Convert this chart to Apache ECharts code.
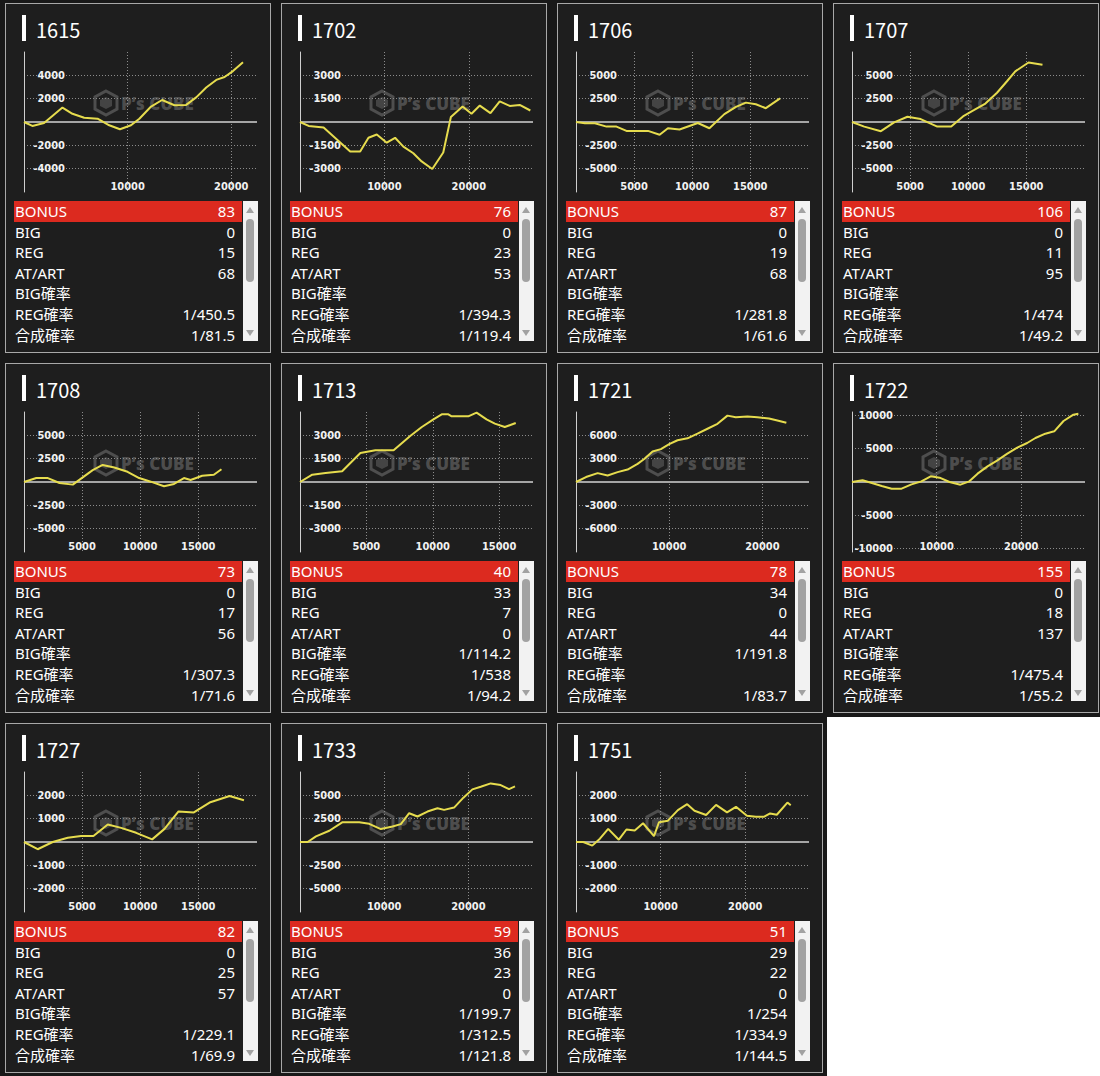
<!DOCTYPE html>
<html><head><meta charset="utf-8">
<script src="https://cdn.jsdelivr.net/npm/echarts@6/dist/echarts.min.js"></script>
<style>
html,body{margin:0;padding:0;}
body{width:1100px;height:1076px;background:#181818;position:relative;overflow:hidden;font-family:"Noto Sans CJK JP","Noto Sans",sans-serif;}
.blank{position:absolute;left:827px;top:717px;width:273px;height:359px;background:#fff;}
.panel{position:absolute;width:266px;height:350px;background:#1e1e1e;border:1px solid #a8a8a8;box-sizing:border-box;}
.bar{position:absolute;left:16px;top:11px;width:4px;height:26px;background:#fff;}
.title{position:absolute;left:30px;top:12px;font-size:20px;line-height:28px;color:#fff;}
.wm{position:absolute;left:87px;top:84px;width:110px;height:30px;z-index:1;display:flex;align-items:center;gap:2px;}
.wm span{font-family:"Open Sans","Noto Sans",sans-serif;font-weight:800;font-size:17px;color:rgba(125,125,125,0.5);}
.chart{position:absolute;left:0;top:40px;width:264px;height:156px;z-index:2;}
.tbl{position:absolute;left:8px;top:197px;width:228px;height:147px;overflow:hidden;}
.row{height:20.6px;line-height:20.6px;font-size:15px;font-family:"Noto Sans","Noto Sans CJK JP",sans-serif;color:#fff;display:flex;justify-content:space-between;padding:0 7px 0 1px;white-space:nowrap;}
.row.head{background:#dc2a1f;}
.sb{position:absolute;left:237px;top:197px;width:15px;height:140px;background:#f2f2f2;}
.sb .up{position:absolute;left:3px;top:6px;width:0;height:0;border-left:4px solid transparent;border-right:4px solid transparent;border-bottom:6px solid #a2a2a2;}
.sb .down{position:absolute;left:3px;top:129px;width:0;height:0;border-left:4px solid transparent;border-right:4px solid transparent;border-top:6px solid #a2a2a2;}
.sb .thumb{position:absolute;left:3px;top:18px;width:8px;height:63px;border-radius:4px;background:#a2a2a2;}
</style>
</head><body>
<div class="blank"></div>
<script>
// ---- table values ----
const machineIds = ['1615','1702','1706','1707','1708','1713','1721','1722','1727','1733','1751'];
const rowLabels = ['BONUS','BIG','REG','AT/ART','BIG確率','REG確率','合成確率'];
const bonusCounts = ['83','76','87','106','73','40','78','155','82','59','51'];
const bigCounts = ['0','0','0','0','0','33','34','0','0','36','29'];
const regCounts = ['15','23','19','11','17','7','0','18','25','23','22'];
const atArtCounts = ['68','53','68','95','56','0','44','137','57','0','0'];
const bigProbs = ['','','','','','1/114.2','1/191.8','','','1/199.7','1/254'];
const regProbs = ['1/450.5','1/394.3','1/281.8','1/474','1/307.3','1/538','','1/475.4','1/229.1','1/312.5','1/334.9'];
const totalProbs = ['1/81.5','1/119.4','1/61.6','1/49.2','1/71.6','1/94.2','1/83.7','1/55.2','1/69.9','1/121.8','1/144.5'];

// ---- axis ranges and tick labels ----
const xMaxes = [22480, 27600, 20060, 20060, 20060, 17550, 25000, 27540, 20060, 27670, 27530];
const xTickLabels = [[10000,20000],[10000,20000],[5000,10000,15000],[5000,10000,15000],[5000,10000,15000],[5000,10000,15000],[10000,20000],[10000,20000],[5000,10000,15000],[10000,20000],[10000,20000]];
const yMaxes = [6000, 4500, 7500, 7500, 7500, 4500, 9000, 10500, 3000, 7500, 3000];
const yTickLabels = [[-4000,-2000,2000,4000],[-3000,-1500,1500,3000],[-5000,-2500,2500,5000],[-5000,-2500,2500,5000],[-5000,-2500,2500,5000],[-3000,-1500,1500,3000],[-6000,-3000,3000,6000],[-10000,-5000,5000,10000],[-2000,-1000,1000,2000],[-5000,-2500,2500,5000],[-2000,-1000,1000,2000]];

// ---- line data: games (x) and medal difference (y) ----
const g1615Games = [0,806,1935,3710,4677,5806,7097,8226,9258,10323,11129,12258,13323,14516,15645,16613,17581,18548,19355,20161,21129];
const g1615Diff  = [0,-338,-85,1239,704,366,282,-282,-620,-282,282,1324,1887,1437,1465,2113,2958,3606,3859,4366,5127];
const g1702Games = [0,1024,2795,4370,5945,7126,8110,9094,10276,11260,12244,13425,14409,15669,16969,17874,19252,20315,21299,22559,23661,24843,26024,27283];
const g1702Diff  = [0,-254,-359,-1120,-1901,-1901,-1014,-803,-1331,-1014,-1585,-2007,-2535,-3021,-1965,317,993,528,1056,570,1331,1035,1099,739];
const g1706Games = [0,771,1629,2629,3486,4343,5200,6200,7200,7914,8914,10486,11486,12771,13771,14629,15486,16343,17571];
const g1706Diff  = [0,-141,-141,-493,-493,-951,-951,-951,-1373,-669,-810,-106,-669,845,1620,2077,1901,1479,2535];
const g1707Games = [0,1057,2486,3629,4771,5914,7343,8543,9629,10486,11486,12486,13343,14057,15200,16400];
const g1707Diff  = [0,-493,-986,-35,563,317,-493,-493,669,1268,1972,3134,4366,5423,6373,6127];
const g1708Games = [0,1057,2057,3057,4200,5057,5914,6771,7771,8914,9914,10914,12057,12914,13771,14343,15343,16343,17000];
const g1708Diff  = [0,423,423,-106,-282,493,1268,1831,1549,1092,423,35,-458,-211,423,211,669,775,1373];
const g1713Games = [0,925,1925,3175,4550,5675,7050,8300,9175,10050,10675,11175,11425,12675,13300,14050,14675,15425,16250];
const g1713Diff  = [0,471,579,686,1864,2036,2036,2957,3536,4029,4350,4350,4221,4221,4457,4029,3750,3536,3793];
const g1721Games = [0,1071,2321,3393,4464,5536,6607,7321,8214,9107,10000,10893,11964,13036,14107,15179,16250,17143,18393,19464,20714,21607,22571];
const g1721Diff  = [0,634,1141,845,1268,1606,2324,2958,3930,4225,4859,5366,5620,6211,6845,7479,8535,8324,8408,8324,8155,7901,7606];
const g1722Games = [0,1250,2344,3516,4688,5859,7031,8203,9297,10352,11523,12813,13867,14844,16016,17188,18359,19531,20703,21680,22852,23906,25000,26172,26758];
const g1722Diff  = [0,250,-150,-600,-1000,-1000,-350,100,850,650,0,-400,100,1250,2350,3250,4250,5150,5850,6600,7250,7600,9150,10100,10250];
const g1727Games = [0,1178,2471,3764,4914,5977,7213,8362,9655,11034,12098,13305,14626,15977,17701,18937];
const g1727Diff  = [0,-310,0,183,254,254,746,606,394,113,563,1310,1268,1690,1972,1789];
const g1733Games = [0,909,1897,3478,5059,7036,8221,9605,10988,11976,12964,13953,15138,16324,17115,18300,19407,20474,21462,22648,23834,24822,25534];
const g1733Diff  = [0,0,603,1206,2128,2128,1950,1383,1667,1915,3085,2730,3262,3617,3440,3688,4752,5638,5922,6277,6099,5674,5957];
const g1751Games = [0,863,1922,2824,3804,5059,5961,6941,7922,9216,9804,10863,12039,13137,14000,15373,16549,17843,18902,20196,21255,22235,22941,23725,24980,25373];
const g1751Diff  = [0,0,-155,141,563,99,535,493,803,254,845,915,1366,1620,1338,1155,1592,1268,1507,1127,1085,1085,1225,1169,1690,1577];

const gamesList = [g1615Games,g1702Games,g1706Games,g1707Games,g1708Games,g1713Games,g1721Games,g1722Games,g1727Games,g1733Games,g1751Games];
const diffList  = [g1615Diff,g1702Diff,g1706Diff,g1707Diff,g1708Diff,g1713Diff,g1721Diff,g1722Diff,g1727Diff,g1733Diff,g1751Diff];

const colLefts = [5, 281, 557, 833];
const rowTops = [3, 363, 723];
const axisFont = '"Liberation Sans Narrow","DejaVu Sans Condensed","Liberation Sans",sans-serif';
const plain = v => String(v);

machineIds.forEach((id, i) => {
  const panel = document.createElement('div');
  panel.className = 'panel';
  panel.style.left = colLefts[i % 4] + 'px';
  panel.style.top = rowTops[Math.floor(i / 4)] + 'px';
  const vals = [bonusCounts[i], bigCounts[i], regCounts[i], atArtCounts[i], bigProbs[i], regProbs[i], totalProbs[i]];
  let rows = '';
  rowLabels.forEach((lab, r) => {
    rows += '<div class="row' + (r === 0 ? ' head' : '') + '"><span>' + lab + '</span><span>' + vals[r] + '</span></div>';
  });
  panel.innerHTML =
    '<div class="bar"></div><div class="title">' + id + '</div>' +
    '<div class="wm"><svg width="26" height="28" viewBox="0 0 26 28"><polygon points="13,2 24,8 24,20 13,26 2,20 2,8" fill="none" stroke="rgba(125,125,125,0.5)" stroke-width="3"/><polygon points="13,8 19,11 19,17 13,20 7,17 7,11" fill="rgba(125,125,125,0.4)"/></svg><span>P\u2019s CUBE</span></div>' +
    '<div class="chart"></div>' +
    '<div class="tbl">' + rows + '</div>' +
    '<div class="sb"><div class="up"></div><div class="thumb"></div><div class="down"></div></div>';
  document.body.appendChild(panel);

  const chart = echarts.init(panel.querySelector('.chart'), null, {renderer: 'svg', width: 264, height: 156});
  const pts = gamesList[i].map((g, k) => [g, diffList[i][k]]);
  const grid = {show: true, lineStyle: {color: '#8c8c8c', width: 1, type: [1, 2]}};
  const lbl = {formatter: plain, color: '#f2f2f2', fontSize: 11, fontWeight: 'bold', fontFamily: axisFont};
  chart.setOption({
    animation: false,
    backgroundColor: 'transparent',
    grid: {left: 18, top: 8, width: 233, height: 140},
    xAxis: {
      type: 'value', min: 0, max: xMaxes[i], position: 'bottom',
      axisLine: {show: false, onZero: false},
      axisTick: {show: false, customValues: xTickLabels[i]},
      axisLabel: Object.assign({inside: true, margin: 0, customValues: xTickLabels[i]}, lbl),
      splitLine: grid
    },
    yAxis: {
      type: 'value', min: -yMaxes[i], max: yMaxes[i],
      axisLine: {show: true, onZero: false, lineStyle: {color: '#cfcfcf', width: 1}},
      axisTick: {show: false, customValues: yTickLabels[i]},
      axisLabel: Object.assign({inside: true, align: 'right', margin: 41, customValues: yTickLabels[i]}, lbl),
      splitLine: grid
    },
    series: [{
      type: 'line', data: pts, symbol: 'none', showSymbol: false, z: 3,
      lineStyle: {color: '#e6dc4e', width: 2},
      markLine: {silent: true, z: 1, symbol: ['none', 'none'], label: {show: false},
        lineStyle: {color: '#a5a5a5', width: 2, type: 'solid'}, data: [{yAxis: 0}]}
    }]
  });
});
</script>
</body></html>
